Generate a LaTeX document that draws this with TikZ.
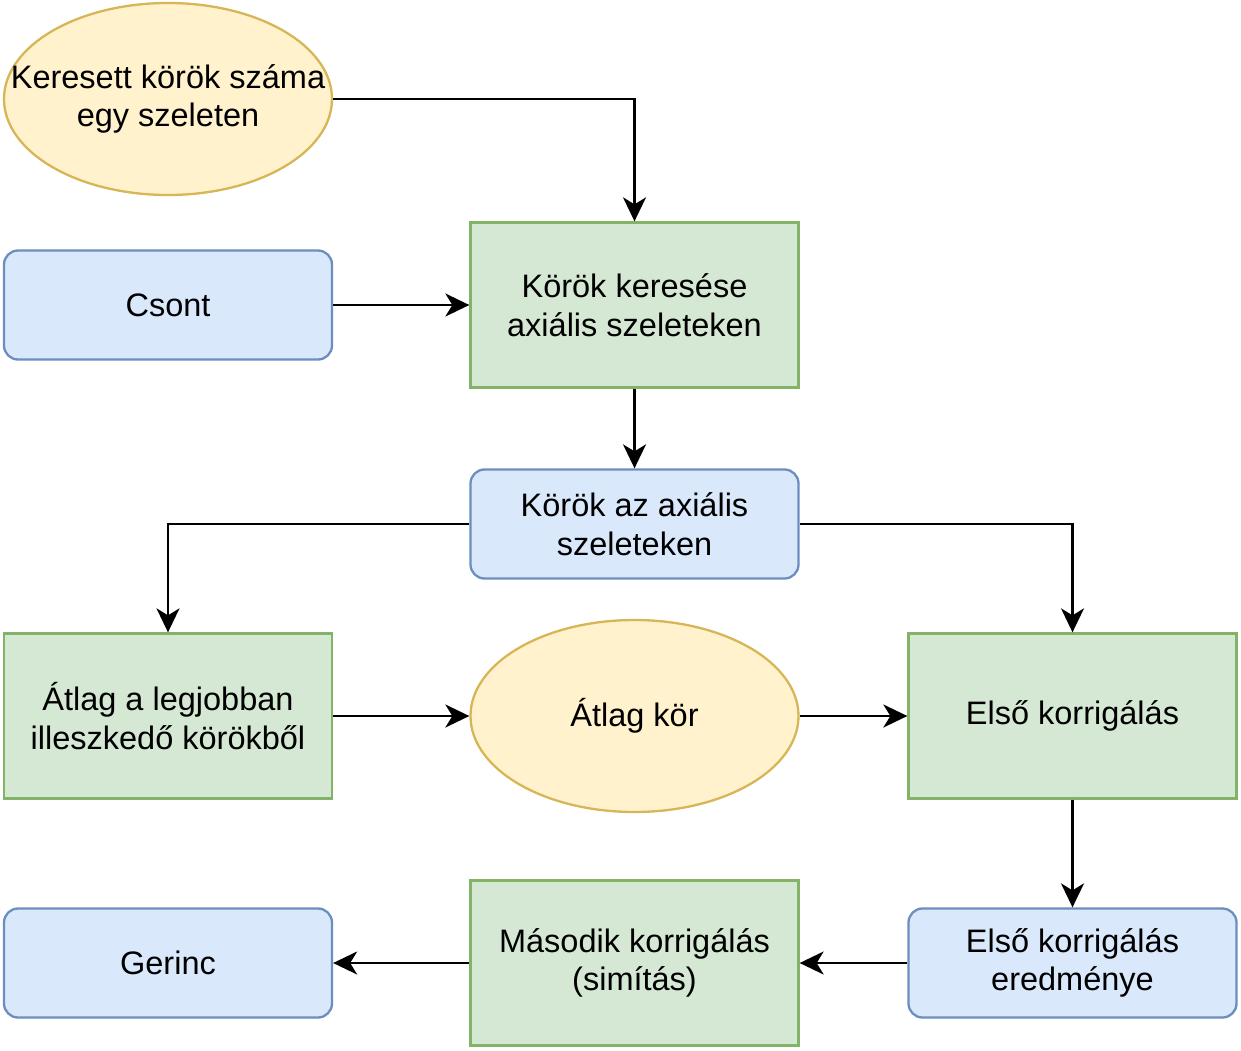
\documentclass[tikz,border=0pt]{standalone}
\usepackage{fontspec}
\setmainfont{Liberation Sans}
\usetikzlibrary{arrows.meta,shapes.geometric}
\definecolor{yfill}{HTML}{FFF2CC}\definecolor{ydraw}{HTML}{D6B656}
\definecolor{bfill}{HTML}{DAE8FC}\definecolor{bdraw}{HTML}{6C8EBF}
\definecolor{gfill}{HTML}{D5E8D4}\definecolor{gdraw}{HTML}{82B366}
\begin{document}
\begin{tikzpicture}[x=1pt,y=-1pt,
  txt/.style={align=center,inner sep=0pt,font=\fontsize{32.5}{38.5}\selectfont},
  base/.style={txt,line width=2.3pt},
  yell/.style={base,ellipse,fill=yfill,draw=ydraw,minimum width=328pt,minimum height=192pt},
  blue/.style={base,rectangle,rounded corners=14pt,fill=bfill,draw=bdraw,minimum width=328pt,minimum height=109pt},
  green/.style={base,rectangle,fill=gfill,draw=gdraw,minimum width=328pt,minimum height=165pt},
  conn/.style={line width=2.3pt,-{Stealth[length=24pt,width=23pt,inset=7pt]}}]
\useasboundingbox (0,0) rectangle (1241,1051);
\node[yell] (kszam) at (168,99) {};
\node[txt] (kszamt) at (168,99) {Keresett körök száma\\egy szeleten};
\node[blue] (csont) at (168,305) {Csont};
\node[green] (keres) at (634.5,305) {Körök keresése\\axiális szeleteken};
\node[blue] (korok) at (634.5,524) {Körök az axiális\\szeleteken};
\node[green] (atlag) at (168,716) {Átlag a legjobban\\illeszkedő körökből};
\node[yell] (akor) at (634.5,716) {Átlag kör};
\node[green] (elso) at (1072.5,716) {Első korrigálás};
\node[blue] (eredm) at (1072.5,963) {Első korrigálás\\eredménye};
\node[green] (masod) at (634.5,963) {Második korrigálás\\(simítás)};
\node[blue] (gerinc) at (168,963) {Gerinc};
\draw[conn] (kszam.east) -| (keres.north);
\draw[conn] (csont) -- (keres);
\draw[conn] (keres) -- (korok);
\draw[conn] (korok.west) -| (atlag.north);
\draw[conn] (korok.east) -| (elso.north);
\draw[conn] (atlag) -- (akor);
\draw[conn] (akor) -- (elso);
\draw[conn] (elso) -- (eredm);
\draw[conn] (eredm) -- (masod);
\draw[conn] (masod) -- (gerinc);
\end{tikzpicture}
\end{document}
